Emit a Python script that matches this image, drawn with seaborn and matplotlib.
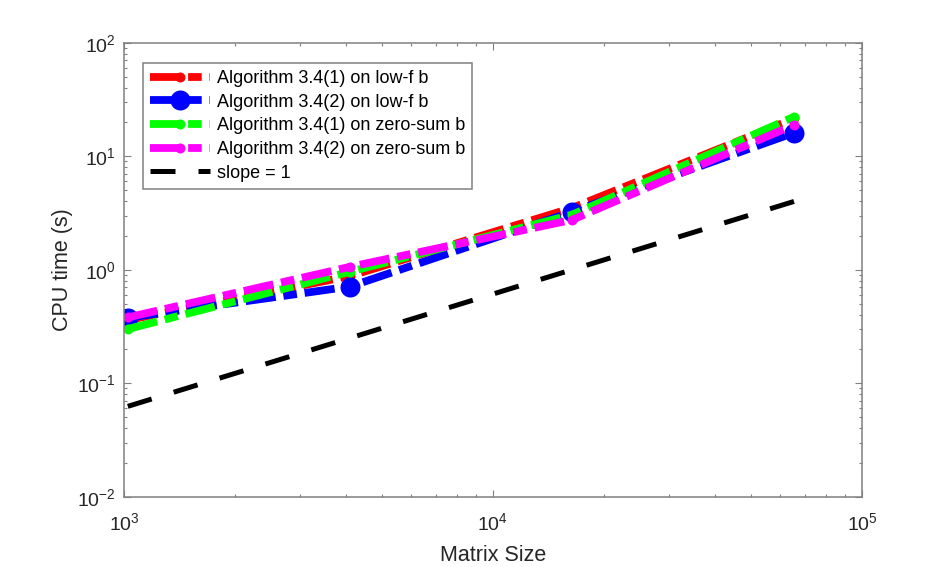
import numpy as np
import pandas as pd
import seaborn as sns
import matplotlib
matplotlib.use("Agg")
import matplotlib.pyplot as plt
from matplotlib.ticker import LogLocator, NullFormatter

# ---- data ----
sizes = [1024, 4096, 16384, 65536]
alg1_lowf = [0.36, 0.88, 3.50, 21.5]
alg2_lowf = [0.377, 0.71, 3.24, 16.1]
alg1_zero = [0.30, 0.96, 3.05, 22.3]
alg2_zero = [0.38, 1.06, 2.75, 18.9]
slope_one = [0.0625, 0.25, 1.0, 4.0]

labels = [
    "Algorithm 3.4(1) on low-f b",
    "Algorithm 3.4(2) on low-f b",
    "Algorithm 3.4(1) on zero-sum b",
    "Algorithm 3.4(2) on zero-sum b",
    "slope = 1",
]
series = [alg1_lowf, alg2_lowf, alg1_zero, alg2_zero, slope_one]
colors = ["#ff0000", "#0000ff", "#00ff00", "#ff00ff", "#000000"]
msizes = [7.2, 14.4, 7.2, 7.2, 0]

sns.set_style("white")
plt.rcParams["font.family"] = ["Liberation Sans", "DejaVu Sans"]
plt.rcParams["mathtext.default"] = "regular"

fig = plt.figure(figsize=(9.53, 5.67), dpi=100)
ax = fig.add_axes([0.1301, 0.124, 0.7744, 0.8007])

for vals, lab, col, ms in zip(series, labels, colors, msizes):
    df = pd.DataFrame({"size": sizes, "time": vals})
    if lab == "slope = 1":
        sns.lineplot(data=df, x="size", y="time", ax=ax, color=col,
                     linewidth=3.6, label=lab, errorbar=None)
        ln = ax.lines[-1]
        ln.set_dashes((5.0, 4.6))
    else:
        sns.lineplot(data=df, x="size", y="time", ax=ax, color=col,
                     linewidth=5.6, marker="o", markersize=ms,
                     markeredgewidth=0, markerfacecolor=col,
                     label=lab, errorbar=None)
        ln = ax.lines[-1]
        ln.set_dashes((3.9, 1.0, 1.75, 1.0))

ax.set_xscale("log")
ax.set_yscale("log")
ax.set_xlim(1e3, 1e5)
ax.set_ylim(1e-2, 1e2)

ax.xaxis.set_major_locator(LogLocator(base=10, numticks=10))
ax.yaxis.set_major_locator(LogLocator(base=10, numticks=10))
ax.xaxis.set_minor_locator(LogLocator(base=10, subs=np.arange(2, 10), numticks=20))
ax.yaxis.set_minor_locator(LogLocator(base=10, subs=np.arange(2, 10), numticks=20))
ax.xaxis.set_minor_formatter(NullFormatter())
ax.yaxis.set_minor_formatter(NullFormatter())

grey = "#808080"
for sp in ax.spines.values():
    sp.set_visible(True)
    sp.set_color(grey)
    sp.set_linewidth(1.1)

ax.tick_params(which="both", direction="in", top=True, right=True,
               bottom=True, left=True,
               color=grey, labelcolor="#262626", labelsize=14, width=0.8)
ax.tick_params(which="major", length=5)
ax.tick_params(which="minor", length=2.5)
ax.tick_params(axis="x", which="major", pad=11)
ax.tick_params(axis="y", which="major", pad=6)

ax.set_xlabel("Matrix Size", fontsize=15.5, color="#262626", labelpad=8)
ax.set_ylabel("CPU time (s)", fontsize=15.5, color="#262626", labelpad=3)

leg = ax.legend(loc="upper left", bbox_to_anchor=(0.0257, 0.956),
                borderaxespad=0, fontsize=13, frameon=True, fancybox=False,
                edgecolor=grey, framealpha=1, handlelength=3.3,
                handletextpad=0.4, labelspacing=0.37, borderpad=0.4,
                numpoints=1)
leg.get_frame().set_linewidth(1.1)
for t in leg.get_texts():
    t.set_color("#000000")

fig.savefig("out.png", dpi=100, facecolor="white")
